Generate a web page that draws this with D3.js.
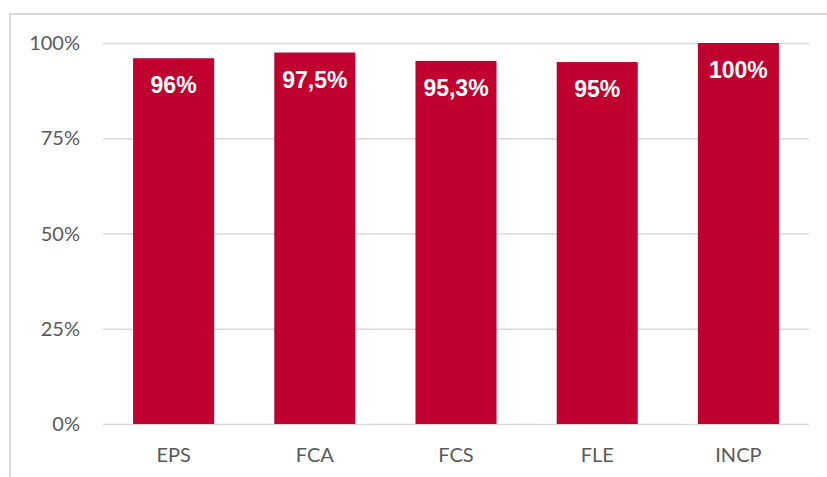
<!DOCTYPE html>
<html>
<head>
<meta charset="utf-8">
<script src="https://cdn.jsdelivr.net/npm/d3@7"></script>
<style>
  body { margin: 0; background: #fff; }
</style>
</head>
<body>
<div id="container"></div>
<script>
      // data
      var categories = ["EPS", "FCA", "FCS", "FLE", "INCP"];
      var values = [96, 97.5, 95.3, 95, 100];
      var valueLabels = ["96%", "97,5%", "95,3%", "95%", "100%"];
      var yTicks = [0, 25, 50, 75, 100];

      // size
      var w = 827;
      var h = 477;

      var svg = d3.select("#container")
            .append("svg")
            .attr("width", w)
            .attr("height", h);

      // chart frame
      svg.append("rect")
        .attr("x", 10)
        .attr("y", 14)
        .attr("width", w + 20)
        .attr("height", h + 20)
        .attr("fill", "none")
        .attr("stroke", "#d9d9d9")
        .attr("stroke-width", 2);

      var x = d3.scaleBand()
            .domain(categories)
            .range([103, 809])
            .paddingInner(0.426)
            .paddingOuter(0.213);

      var y = d3.scaleLinear()
            .domain([0, 100])
            .range([424, 43]);

      // gridlines
      svg.selectAll("line.grid")
        .data(yTicks)
        .enter()
        .append("line")
        .attr("class", "grid")
        .attr("x1", 103)
        .attr("x2", 809)
        .attr("y1", function(d) { return y(d) + 0.5; })
        .attr("y2", function(d) { return y(d) + 0.5; })
        .attr("stroke", "#d9d9d9")
        .attr("stroke-width", 1.5);

      // y tick labels
      svg.selectAll("text.ytick")
        .data(yTicks)
        .enter()
        .append("text")
        .attr("class", "ytick")
        .attr("x", 80)
        .attr("y", function(d) { return y(d); })
        .attr("dy", "0.36em")
        .attr("text-anchor", "end")
        .style("font-family", "Lato, 'Open Sans', sans-serif")
        .style("font-size", "20px")
        .style("fill", "#595959")
        .text(function(d) { return d + "%"; });

      // bars
      svg.selectAll("rect.bar")
        .data(values)
        .enter()
        .append("rect")
        .attr("class", "bar")
        .attr("x", function(d, i) { return x(categories[i]); })
        .attr("y", function(d) { return y(d); })
        .attr("width", x.bandwidth())
        .attr("height", function(d) { return y(0) - y(d); })
        .attr("fill", "#c0002f");

      // value labels
      svg.selectAll("text.val")
        .data(values)
        .enter()
        .append("text")
        .attr("class", "val")
        .attr("x", function(d, i) { return x(categories[i]) + x.bandwidth() / 2; })
        .attr("y", function(d) { return y(d) + 35; })
        .attr("text-anchor", "middle")
        .style("font-family", "'Liberation Sans', Arial, sans-serif")
        .style("font-weight", "bold")
        .style("font-size", "23px")
        .style("fill", "#fff")
        .text(function(d, i) { return valueLabels[i]; });

      // category labels
      svg.selectAll("text.cat")
        .data(categories)
        .enter()
        .append("text")
        .attr("class", "cat")
        .attr("x", function(d) { return x(d) + x.bandwidth() / 2; })
        .attr("y", 462)
        .attr("text-anchor", "middle")
        .style("font-family", "Lato, 'Open Sans', sans-serif")
        .style("font-size", "20px")
        .style("fill", "#595959")
        .text(function(d) { return d; });
</script>
</body>
</html>
